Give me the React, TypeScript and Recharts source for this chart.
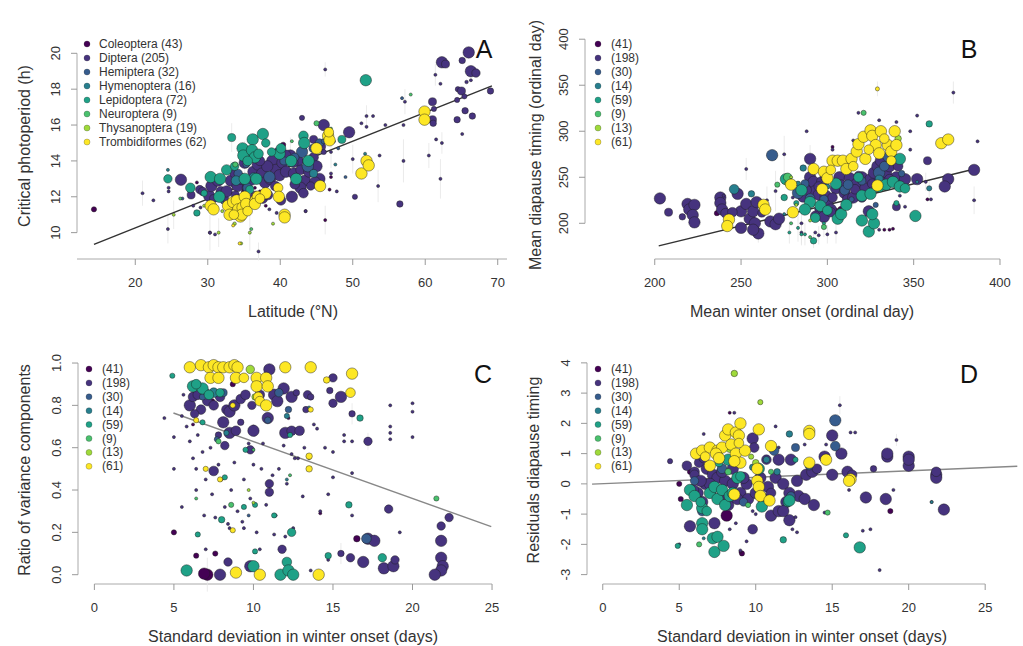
import React from 'react';
import { ScatterChart, Scatter, XAxis, YAxis, ZAxis, ReferenceLine, ErrorBar } from 'recharts';

type Pt = [number, number, number, number?]; // x, y, weight (point size), optional y error
type Seg = [[number, number], [number, number]];

const FONT = '"Liberation Sans", Arial, Helvetica, sans-serif';

const orders = ['Coleoptera', 'Diptera', 'Hemiptera', 'Hymenoptera', 'Lepidoptera', 'Neuroptera', 'Thysanoptera', 'Trombidiformes'];
const viridis = ['#440154', '#46337E', '#365C8D', '#277F8E', '#1FA187', '#4AC16D', '#9FDA3A', '#FDE725'];
const countsA = [43, 205, 32, 16, 72, 9, 19, 62];
const countsBCD = [41, 198, 30, 14, 59, 9, 13, 61];

const xTicksA = [20, 30, 40, 50, 60, 70];
const yTicksA = [10, 12, 14, 16, 18, 20];
const xTicksB = [200, 250, 300, 350, 400];
const yTicksB = [200, 250, 300, 350, 400];
const xTicksCD = [0, 5, 10, 15, 20, 25];
const yTicksC = [0, 0.2, 0.4, 0.6, 0.8, 1.0];
const yTicksD = [-3, -2, -1, 0, 1, 2, 3, 4];

const fitA: Seg = [[14.3, 9.35], [69.2, 18.18]];
const fitB: Seg = [[202.3, 175.4], [384.7, 258.7]];
const fitC: Seg = [[4.97, 0.764], [24.95, 0.227]];
const fitD: Seg = [[-0.7, -0.01], [27.1, 0.58]];

// ---- Panel A: latitude vs critical photoperiod ----
const aColeoptera: Pt[] = [[14.3,11.3,15],[40.4,14.9,15],[38,11.5,3],[36.5,12.5,3],[28.5,12.8,3],[30.3,10,3],[43.5,11.2,3],[46.2,10.7,3,0.8],[47,13.1,3],[39,13.3,15],[40.2,13.5,45],[33.5,12.6,3],[37.2,12.3,3],[35,12.3,15],[44,13.8,3],[46.8,12.4,3],[41.2,12.1,3],[42.5,12.6,3]];
const aDiptera: Pt[] = [[26.3,12.95,85],[27.7,12.1,40],[28.9,12.4,45],[30.2,12.05,85],[30.5,12.6,85],[31.4,12.9,85],[31.8,12.3,60],[32.3,11.9,45],[32.6,12.3,85],[33.2,12.9,85,1.1],[33.7,13.3,60],[34.1,12.6,85],[34.6,13,85],[35.4,12.5,60],[35.1,13.9,85,1.2],[35.7,14.2,60],[36.3,13.4,85],[36.9,13.8,85],[37.5,13.3,85],[37.9,12.8,85],[38.6,13,85],[38.9,14,85],[39.4,13.5,85],[39.9,13.2,85],[40.3,13.9,85],[40.8,13.4,85],[41.4,14.3,85,1],[41.9,13.3,85],[42.4,14,85],[42.8,13.5,60],[43.4,12.9,85],[44,13.4,85],[44.6,14.2,60],[45,13.7,85],[45.4,13,85],[46,16,85],[49.5,15.6,85],[45.6,14.8,60],[44.6,15.2,40],
  [36.6,12,85],[37.6,11.9,60],[38.3,12.1,60],[40.1,11.8,60],[41.6,12,85],[42.8,12.5,85],[43.2,12.2,60],[44.8,12.8,85],[39.3,12.6,60],[36,12.9,60],[33.8,12.1,40],[29.3,12.3,45],[30.8,11.9,40],
  [38.2,13.7,85],[40.7,14.3,85],[41.8,13.9,60],[43.1,14.6,45],[37.2,14,60],[39.6,14.5,45],[42,12.7,60],[44.2,12.6,45],
  [62.3,19.5,85],[62.8,19.4,40],[65.1,19.6,25],[66,20.05,85],[66.3,19,85],[67,18.9,45],[64.5,18,15],[65,17.9,40],[65.4,17.6,15],[64.4,17.4,15],[61,17.3,40],[61.2,16.9,15],[61,16.3,40],[61.1,16.1,25],[64.4,16.3,25],[65.5,16.8,25],[66.5,16.5,25],[69,17.9,25],[65.7,18.4,5],[66.3,18.5,3],
  [56.5,11.6,25],[50.3,12,15],[43,16.4,15],[47.3,15.1,10],[46,14.5,15],
  [21,12.2,3,0.7],[24.5,10.2,3,0.8],[24.6,12.3,3],[24.6,12.5,3],[30.3,10,3,1],[37,8.95,3,0.5],[38.5,11.3,3],[39.5,11.1,3],[43.5,11.2,3],[46.2,19.1,3,0.4],[51.9,16.5,3,0.6],[52.8,16.5,3],[51.9,15.9,3],[53.5,12.6,3,0.9],[53.7,14.3,3],[57,14,3,1.2],[57.2,17.3,3,0.7],[62.1,13,3,1.1],[61.4,18.8,3,0.6],[62.1,18.3,3],[47,13.3,3],[47.8,12.3,3],[47,14.5,3,0.9],[31,9.9,3],[50,14.1,3,0.8],[51.2,16.1,3],[60.5,14.3,3,0.7],[61.5,15.2,3],[62.3,15,3,0.6],[65.1,15.5,3],[28,11.5,3],[29,11.4,3],[22.5,11.8,3],[57,16,3],[54.5,16,3]];
const aHemiptera: Pt[] = [[35.5,12.5,60],[38.5,13.1,85],[43,14.5,85],[43.8,13.7,85],[45.4,15,45],[34.2,13.3,45],[40.5,14,40],[46,15.1,15],[44.5,14.7,40],[42,14.2,45],[35.3,13.8,25],[32,11.7,3],[49,13.1,3],[26.5,11.9,3],[56.8,17.5,3],[48,14.7,3]];
const aHymenoptera: Pt[] = [[33.9,12.9,60],[36.3,13.1,45],[43.7,14,45],[44.6,13.3,40],[24.5,13.5,3],[47.6,13.8,3],[51.7,14.4,3],[28.5,11.1,3]];
const aLepidoptera: Pt[] = [[24.5,13,45],[27.6,12.5,60],[28.5,11.1,25],[30.4,13.1,85],[31.7,13,85],[31.6,12,85],[32.6,13.5,70],[33.3,15.3,40,0.8],[34.8,14.7,85],[34.9,14.3,85],[35.1,13,85],[36.2,15.2,85],[36.1,14.6,85],[36.5,14.2,85],[37.6,15.5,85],[38,15,45],[36.7,13,85],[39.9,14.4,85],[40.1,14.7,60],[41.5,14,85],[42.2,13,85],[43.2,15.4,60],[43.3,15,85],[43.9,14,85],[51.8,18.5,85],[35.5,14,60],[37,14.4,60],[33.7,13.7,45],[38.8,14.5,45],[48.5,15.2,40],[29.5,12.2,25],[35.8,12.4,40]];
const aNeuroptera: Pt[] = [[45,16.1,15],[33.8,13.8,15],[26.2,11.9,3],[41.6,15.1,3],[58,17.7,3],[36,10.2,3],[47,15.8,3]];
const aThysanoptera: Pt[] = [[31.5,10,3,0.8],[35.8,10,3,1],[33.7,10.5,5],[25.3,11,3,0.8],[34.6,9.4,3],[29.5,11.5,3],[39,10.5,3],[32,11.2,3],[45.4,14.6,5],[46.7,15.6,3]];
const aTrombidiformes: Pt[] = [[30.4,11.5,85],[30.8,11.3,85],[32.8,11.5,85],[33,11,85],[33.5,11.7,85],[34,11.8,85],[34.2,11.3,85],[34.5,10.9,85],[34.8,11.4,85],[35.1,12,85],[35.3,11.6,85],[34.7,11,85],[33.6,11,60],[36.6,11.8,85],[36.9,12,85],[36.5,11.6,85],[38,12.2,85],[39.7,12.5,60],[39.8,12,85],[40.6,11,85],[40.6,10.85,85],[45,14.7,85],[45.5,12.6,85],[46.6,15.4,85],[46.8,15.15,85],[46.7,15.6,60],[51.2,13.3,85],[51.9,14,85],[52.2,13.75,85],[59.9,16.75,85],[59.9,16.3,85],[33.5,10.4,3],[34.4,9.4,3],[35.5,11.2,60],[37.2,11.9,60]];

// ---- Panel B: winter onset vs diapause timing ----
const bColeoptera: Pt[] = [[236,211,15],[240,212,15],[305,212,40],[302,214,25],[308,215,25],[290,252,3],[303,283,3],[325,193,3],[333,193,3],[336,193,3],[338,194,3],[358,226,3],[300,259,3],[305,243,3],[296,225,3],[310,219,3],[280,210,3],[318,227,3],[322,203,3]];
const bDiptera: Pt[] = [[203,227,85],[208,212,40],[216,207,25],[219,221,85],[220,215,85],[223,220,85],[222,209,85],[223,201,85],[238,228,85],[238,222,85],[239,215,85],[241,211,60],[248,232,85],[250,213,85],[250,195,85],[253,221,85],[255,205,85],[257,213,85],[258,200,85],[259,223,85],[260,189,85,10],[267,202,85],[270,199,85],[272,205,85],[257,193,85],[245,212,60],[262,211,40],
  [286,229,85],[289,240,85],[290,270,85,15],[290,250,85],[292,245,85],[293,235,85],[295,231,85],[297,245,85],[299,230,85],[300,222,85],[302,215,85],[296,215,85],[293,208,60],[305,238,85],[307,250,85],[310,233,85],[312,226,85],[313,249,85],[315,228,85],[317,243,85],[320,250,85],[322,238,85],[325,248,85],[327,255,85],[329,262,85],[331,268,85],[334,254,85],[336,262,85],[338,270,85],[340,250,85],[341,262,60],[345,248,85],[352,248,85],[370,248,85],[368,240,85],[385,258,85],[358,268,40],[340,218,40],[324,213,85],[298,207,85],[302,212,60],[288,236,60],[295,240,60],[303,228,60],[308,242,60],[316,237,60],[320,228,60],[326,243,60],[332,245,60],[336,248,60],[299,250,60],[318,252,45],
  [253,259,3,12],[275,275,3,20],[300,188,3,10],[288,300,3],[303,280,3],[318,320,3],[330,312,3],[340,310,3],[348,300,3],[352,317,3],[373,342,3,12],[385,225,3,15],[387,289,3],[315,290,3],[293,190,3],[330,193,3],[345,218,3],[270,235,3,22],[265,225,3,15],[280,228,3],[285,200,3,15],[285,190,3,12],[295,187,3,10],[305,190,3,12],[348,280,3],[357,245,3,10],[360,226,3],[342,230,3],[240,230,3]];
const bHemiptera: Pt[] = [[268,274,85],[283,233,85],[290,227,60],[310,236,60],[312,242,60],[330,255,85],[333,262,60],[335,272,60],[298,226,45],[320,246,40],[287,243,40],[343,254,25],[328,220,15],[314,226,15]];
const bHymenoptera: Pt[] = [[246,237,60],[256,232,25],[286,260,25],[283,243,15],[352,245,3],[359,238,15,10],[330,248,40],[275,210,3],[300,240,15]];
const bLepidoptera: Pt[] = [[276,248,85],[285,236,85],[290,223,85],[287,215,85],[296,219,85],[300,214,60],[306,205,85],[308,210,85],[311,220,85],[305,243,85],[320,230,85],[325,232,85],[330,240,85],[334,242,85],[338,245,85],[342,240,85],[342,270,85],[320,203,85],[324,191,85],[327,200,85],[326,210,85],[351,208,85],[359,308,25],[318,250,60],[345,238,60],[293,206,60],[292,181,25,8],[287,188,3,12],[285,188,3,12],[298,200,3,15],[278,190,3,12],[283,195,3,15],[340,222,15],[275,228,25],[282,222,15]];
const bNeuroptera: Pt[] = [[277,250,45],[271,242,15],[298,196,15],[321,320,15],[290,185,3],[279,200,3]];
const bThysanoptera: Pt[] = [[341,292,25],[279,250,3],[276,243,3],[282,220,3],[312,272,3],[290,203,3],[337,286,3]];
const bTrombidiformes: Pt[] = [[243,204,85],[242,197,85],[263,220,85],[264,215,85],[279,242,85],[280,212,85],[292,259,85],[297,237,85],[298,256,85],[300,249,85],[303,268,85],[306,268,85],[309,268,85],[311,259,85],[314,270,85],[317,278,85],[318,286,85],[321,294,85],[322,270,85],[325,301,85],[326,295,85],[328,285,85],[330,276,85],[331,300,85],[335,285,85],[337,278,85],[339,300,85],[340,285,85],[329,241,85],[366,287,85],[370,291,85],[329,346,8,8],[324,280,60],[333,292,60],[315,262,60],[302,258,60],[337,268,60]];

// ---- Panel C: SD winter onset vs variance ratio ----
const cColeoptera: Pt[] = [[7.1,0,85,0.08],[6.9,0.005,85],[7.6,0.1,15],[16.5,0.17,25],[5,0.2,15],[6.4,0.09,15],[9,0.93,15],[7.4,0.82,15],[8.7,0.9,15],[6.2,0.71,3],[10,0.7,3],[12.2,0.74,3],[14.2,0.29,3]];
const cDiptera: Pt[] = [[6,0.8,85],[6.2,0.84,60],[6.5,0.85,60],[6.7,0.78,60],[7.1,0.82,60],[7.5,0.8,60],[7.9,0.84,60],[8.3,0.78,60],[8.5,0.77,85],[8.8,0.8,85],[9.2,0.83,60],[9.5,0.85,60],[8.1,0.72,85],[8.5,0.67,85],[8.9,0.68,60],[7.5,0.49,60],[8.2,0.61,45],[9.8,0.59,45],[10,0.68,85],[11,0.97,85],[11.3,0.85,85],[11.9,0.88,85],[11.5,0.82,85],[12.4,0.84,85],[12,0.67,85],[12.4,0.68,60],[12.9,0.68,60],[13.4,0.85,45],[10.9,0.74,85],[11,0.43,45],[11,0.39,45],[15,0.93,45],[14.8,0.87,25],[15.5,0.84,85],[15,0.81,45],[16.2,0.76,25,0.05],[17.2,0.63,45,0.04],[18.5,0.31,45],[17.2,0.17,85],[17.6,0.16,85],[18.2,0.03,85],[18.8,0.04,85],[18.9,0.07,45],[16.9,0.06,85],[16.1,0.08,45],[15.5,0.1,25,0.05],[11.8,0.12,45],[8.4,0.06,45],[9.8,0.04,85],[7.9,0,85],[21.8,0.16,85],[21.8,0.08,85],[21.9,0.04,85],[21.8,0.02,85],[21.4,0,85],[21.8,0.23,45],[22.3,0.27,45],[10.4,0.85,60],[9.9,0.8,45],[7,0.86,45],[6.5,0.9,25],[13.3,0.78,25],[13.6,0.84,25],[12.7,0.86,25],[6.3,0.76,45],[9.2,0.72,25],[7.8,0.66,25],
  [4.4,0.74,3],[5,0.65,3],[5,0.5,3],[5.5,0.32,3],[5.5,0.75,3],[5.6,0.85,3],[5.8,0.7,3],[6,0.63,3],[6.2,0.55,3],[6.4,0.4,3],[6.4,0.5,3],[6.5,0.66,3],[6.8,0.58,3],[6.9,0.28,3],[7,0.45,3],[7.3,0.6,3],[7.4,0.38,3],[7.6,0.27,3],[7.8,0.52,3],[8,0.45,3],[8.2,0.32,3],[8.5,0.22,3],[8.6,0.4,3],[8.8,0.53,3],[9,0.3,3],[9.3,0.25,3],[9.4,0.45,3],[9.7,0.62,3],[9.8,0.36,3],[10,0.52,3],[10.2,0.2,3],[10.5,0.5,3],[10.6,0.62,3],[10.8,0.33,3],[11.2,0.47,3],[11.4,0.28,3],[11.6,0.5,3],[11.9,0.61,3],[12.1,0.43,3],[12.4,0.57,3],[12.6,0.55,3],[12.5,0.22,3],[13.1,0.37,3],[13.2,0.6,3],[13.8,0.71,3],[14,0.69,3],[14.2,0.3,3],[14.5,0.6,3],[14.7,0.38,3],[15,0.58,3],[15,0.46,3],[15.7,0.66,3],[15.7,0.63,3],[16.2,0.63,3],[16.2,0.48,3],[16.2,0.28,3],[18.6,0.8,3],[18.6,0.7,3],[18.6,0.67,3],[18.6,0.64,3],[20,0.81,3],[20,0.77,3],[20,0.65,3],[19.2,0.2,3],[12,0.18,3],[9.4,0.22,3],[8.4,0.24,3],[11.3,0.19,3],[12.8,0.55,3],[10.4,0.12,3],[7,0.12,3],[13.6,0.02,3],[14.7,0.07,3]];
const cHemiptera: Pt[] = [[17.1,0.17,60],[11.6,0.86,45],[8.1,0.86,40],[12.2,0.78,25],[6.8,0.84,25],[10.9,0.73,25],[7.7,0.64,15],[9.7,0.28,3],[13.5,0.55,3]];
const cHymenoptera: Pt[] = [[7.5,0.86,60],[12.1,0.75,15],[8.3,0.67,15],[6.3,0.9,15],[13.5,0.79,3],[12.1,0.45,3]];
const cLepidoptera: Pt[] = [[6.2,0.89,85],[6.8,0.88,85],[6.4,0.9,60],[7.2,0.85,60],[7.9,0.86,45],[5.8,0.02,85],[10,0.04,85],[11.7,0,85],[12.1,0.06,60],[12.2,0.02,85],[12.5,0,85],[12.4,0.2,45],[16,0.33,25],[16.7,0.74,25],[18.1,0.08,45],[14.7,0.09,25],[10.1,0.11,15],[6.5,0.19,15],[8,0.26,25],[11.3,0.28,15],[9.4,0.32,15],[4.9,0.94,15],[6.8,0.72,15],[10.1,0.33,15],[12.3,0.66,15],[8.2,0.46,15],[9.5,0.59,15]];
const cNeuroptera: Pt[] = [[7.8,0.63,15],[8.6,0.33,15],[21.5,0.36,15],[10,0.59,3],[6.4,0.36,3],[12.3,0.47,3]];
const cThysanoptera: Pt[] = [[9.8,0.97,45],[10.1,0.84,25],[6,0.97,15],[9.7,0.4,3],[10,0.34,3],[6.4,0.73,3]];
const cTrombidiformes: Pt[] = [[6,0.98,85],[6.7,0.99,85],[7.2,0.98,85],[7.5,0.99,85],[7.8,0.98,85],[8.1,0.98,85],[8.5,0.98,85],[8.8,0.99,85],[9,0.98,85],[7.3,0.93,85],[7.8,0.93,85],[8.9,0.93,85],[9.4,0.93,60],[10.2,0.93,85],[10.2,0.89,85],[10.8,0.93,85],[10.9,0.89,85],[10.3,0.84,60],[10.4,0.82,60],[10.8,0.8,85],[12,0.98,85],[13.6,0.98,85],[16.2,0.95,85],[16.1,0.86,60],[14.6,0.92,25],[13.5,0.56,25],[13.5,0.5,25],[8.9,0.01,85],[10.4,0,85],[14.1,0,85],[8.7,0.8,15],[6.4,0.73,15],[7,0.5,15],[7.9,0.45,15],[8.7,0.21,15],[13.6,0.78,15]];

// ---- Panel D: SD winter onset vs residual diapause timing ----
const dColeoptera: Pt[] = [[8.1,-1.05,85],[5,0,15],[5.1,-0.5,15],[9.1,-2.3,15],[18.8,-0.9,15],[6.6,1,3],[7.3,0.2,15],[5.7,0.4,15],[9,-2.25,3],[8.3,2.35,3]];
const dDiptera: Pt[] = [[5.5,0.6,60],[6,0.4,60],[6.3,0.7,60],[6.8,0.5,85],[7.2,0.3,85],[7.5,0.2,85],[8,0.1,85],[8.5,0,85],[9,-0.3,85],[9.5,-0.5,85],[10,-0.3,85],[10.8,-0.1,85],[11.3,0.2,85],[11.8,0,85],[12.2,-0.3,85],[12.7,0.1,85],[13.3,0.3,85],[13.7,0.4,85],[14.5,0.9,85],[15,1.6,85],[15,0.3,85],[15.6,1,85],[16,0.4,85],[17.2,-0.45,85],[18.5,-0.5,85],[18.6,0.9,85],[18.6,1,85],[20,0.9,85],[20,0.6,85],[20,0.8,85],[21.8,0.3,85],[21.8,0.2,85],[22.3,-0.85,85],[5.7,-1.4,85],[7.3,-1.3,85],[9.8,-1.5,60],[11,-1.05,85],[11.5,-0.9,85],[12.2,-1.2,85],[10.7,0.8,60],[9.8,1.5,85],[9.9,1.2,60],[11.5,0.8,85],[12.3,0.8,85],[6.6,0.85,60],[6,0.3,60],[6.7,0,85],[7.8,-0.4,85],[8.2,-0.7,85],[8.8,-0.5,85],[9.4,0,85],[10.5,-0.5,85],[11,-0.3,60],[12,-0.6,85],[12.8,-0.4,85],[13.2,-0.5,85],[13.8,-0.7,85],[11.8,-0.9,85],[6.2,-0.3,85],[6.5,-0.6,85],[7,0,85],[7.8,0.4,85],[8.5,0.5,85],[9.2,0.2,85],[6.4,0.1,85],[5.9,-0.2,85],[10.3,0.2,85],[14,0.5,60],[16.3,0.3,60],[17.7,0.5,25],[21.8,0.4,60],
  [4.4,0.75,15],[5,-2,3],[15.5,2.6,3,0.3],[16.2,1.7,3],[16.5,1.7,3],[19.2,1.45,3,0.2],[19,-0.2,3],[17.5,-1.5,3],[18.1,-2.85,3],[14.5,-0.95,3],[21.5,-0.6,3],[9.4,-1.9,3],[9,-2.2,3],[8.6,2.35,3],[6.6,1.65,3],[11.3,1.9,3],[10,-1,3],[9.8,-0.9,3],[8.7,-1.3,3],[8.3,-1.5,3],[12.4,-1.5,3],[12.7,-1.6,3],[12.6,-1.1,3],[16.1,-0.2,3],[13.2,1.3,3],[14.6,1.3,3],[11.5,1.2,3],[17,-1.55,3]];
const dHemiptera: Pt[] = [[15.2,2.1,85],[15.2,1.25,60],[11.2,1.1,60],[7.8,0.5,60],[6.5,-0.9,60],[12.6,1.2,40],[9.2,-0.6,45],[13.5,0.6,45],[10.2,-0.2,45],[6,0.1,45],[12.3,-0.4,45]];
const dHymenoptera: Pt[] = [[12.2,1.65,25],[10.7,0.8,25],[11.4,0.4,25],[9.8,0.55,25],[7.1,-0.3,45],[21.5,-0.6,3],[6.6,-1.8,3]];
const dLepidoptera: Pt[] = [[5.7,-0.2,85],[5.5,-0.7,85],[6,-0.4,85],[6.5,-0.8,85],[6.5,-1.3,85],[6.5,-1.5,85],[7,-0.3,85],[7.3,-0.1,85],[7.5,-0.5,85],[7.8,-0.2,85],[8,-0.7,85],[7.2,-1.8,85],[7.5,-1.75,85],[7.3,-2.25,85],[7.9,-2.05,85],[8.3,-0.4,85],[8.5,-0.3,85],[8.8,0.2,85],[9,0.25,60],[10.4,-0.75,85],[12.1,-0.6,60],[11.8,-1.85,25],[12.2,-0.55,85],[16.8,-2.1,85],[10.2,0.5,85],[8.2,0.8,85],[6.4,-0.6,60],[6.8,-0.9,60],[15.9,-1.7,15],[4.9,-2.05,15],[7.6,0.7,40],[12.6,0.8,15]];
const dNeuroptera: Pt[] = [[6.3,-2,15],[8.2,0.4,25],[11,0.4,15],[9.5,-0.7,15],[14.7,-0.95,15]];
const dThysanoptera: Pt[] = [[8.6,3.65,25],[10.3,2.7,15],[8.3,1.2,60],[10,0.7,25],[7.6,1,15],[9.7,0.9,15]];
const dTrombidiformes: Pt[] = [[6.1,1,85],[6.5,1.1,85],[7,1.2,85],[7.5,1.1,85],[7.8,1.2,85],[7.4,1,85],[7.6,0.85,85],[7,0.6,85],[8,1.6,85],[8.2,1.8,85],[8.7,1.7,85],[9,2,85],[8.9,1.6,85],[8.4,1.3,85],[8.7,1,85],[9,0.7,85],[8.6,0.75,85],[9.3,1.1,85],[10.2,1.8,85],[11,1.25,85],[10.1,0.5,85],[10.1,0.1,85],[10.2,-0.1,85],[10.3,-0.4,85],[10.9,-0.55,85],[8.6,-0.35,85],[13.5,1.75,85],[13.5,1.65,85],[13.5,0.7,85],[14.6,0.8,85],[16.2,0.15,85],[16.1,0.1,85],[6.7,0.9,60],[8.9,1.35,60]];

const W = 512;
const H = 323;
const Y_AXIS_W = 50;
const X_AXIS_H = 30;

interface PanelCfg {
  left: number;
  top: number;
  box: { l: number; r: number; t: number; b: number };
  xDomain: [number, number];
  yDomain: [number, number];
  xTicks: number[];
  yTicks: number[];
  yFmt: (v: number) => string;
  xLineFull?: boolean;
  groups: Pt[][];
  fit: Seg;
  fitColor: string;
  xTitle: string;
  yTitle: string;
  xTitlePos: [number, number];
  yTitlePos: [number, number];
  legend: string[];
  legendPos: { dot: number; text: number; y0: number; dy: number };
  letter: string;
  letterPos: [number, number];
}

function XTick(props: any) {
  const { x, y, payload } = props;
  return (
    <text x={x} y={y + 22} textAnchor="middle" fontSize={13} fill="#333" fontFamily={FONT}>
      {payload.value}
    </text>
  );
}

// y tick labels turned on their side, R style
const yTickStyle: any = { fontSize: 13, fill: '#333', fontFamily: FONT, textAnchor: 'middle', verticalAnchor: 'middle' };

function Panel({ cfg }: { cfg: PanelCfg }) {
  const { box, xDomain, yDomain, xTicks, yTicks } = cfg;
  const axisColor = '#aaa';
  const xLine = cfg.xLineFull ? xDomain : [xTicks[0], xTicks[xTicks.length - 1]];
  return (
    <div style={{ position: 'absolute', left: cfg.left, top: cfg.top, width: W, height: H }}>
      <ScatterChart width={W} height={H}
        margin={{ top: box.t, right: W - box.r, bottom: H - box.b - X_AXIS_H, left: box.l - Y_AXIS_W }}>
        <XAxis type="number" dataKey="x" domain={xDomain} ticks={xTicks} interval={0}
          allowDataOverflow axisLine={false} tickLine={{ stroke: '#999' }} tickSize={6} tickMargin={0}
          height={X_AXIS_H} tick={XTick} />
        <YAxis type="number" dataKey="y" domain={yDomain} ticks={yTicks} interval={0}
          allowDataOverflow axisLine={false} tickLine={{ stroke: '#999' }} tickSize={6} tickMargin={16}
          width={Y_AXIS_W} angle={-90} tick={yTickStyle} tickFormatter={cfg.yFmt} />
        <ZAxis type="number" dataKey="z" domain={[0, 100]} range={[4, 120]} />
        <ReferenceLine ifOverflow="visible" stroke={axisColor} strokeWidth={1}
          segment={[{ x: xLine[0], y: yDomain[0] }, { x: xLine[1], y: yDomain[0] }]} />
        <ReferenceLine ifOverflow="visible" stroke={axisColor} strokeWidth={1}
          segment={[{ x: xDomain[0], y: yTicks[0] }, { x: xDomain[0], y: yTicks[yTicks.length - 1] }]} />
        {cfg.groups.map((g, i) => (
          <Scatter key={orders[i]} name={orders[i]} isAnimationActive={false}
            data={g.map(([x, y, z, e]) => ({ x, y, z, e: e ?? 0 }))}
            fill={viridis[i]} stroke="rgba(30,30,30,0.75)" strokeWidth={0.6}>
            <ErrorBar dataKey="e" direction="y" width={0} stroke="#e6e6e6" strokeWidth={0.8} />
          </Scatter>
        ))}
        <ReferenceLine ifOverflow="visible" stroke={cfg.fitColor} strokeWidth={1.4}
          segment={[{ x: cfg.fit[0][0], y: cfg.fit[0][1] }, { x: cfg.fit[1][0], y: cfg.fit[1][1] }]} />
      </ScatterChart>
      <svg width={W} height={H} style={{ position: 'absolute', left: 0, top: 0, pointerEvents: 'none' }}
        fontFamily={FONT}>
        <g transform={`translate(${cfg.yTitlePos[0]},${cfg.yTitlePos[1]}) rotate(-90)`}>
          <text x={0} y={0} fontSize={16} fill="#333" textAnchor="middle" dominantBaseline="central">
            {cfg.yTitle}
          </text>
        </g>
        <text x={cfg.xTitlePos[0]} y={cfg.xTitlePos[1]} fontSize={16} fill="#333" textAnchor="middle"
          dominantBaseline="central">
          {cfg.xTitle}
        </text>
        <text x={cfg.letterPos[0]} y={cfg.letterPos[1]} fontSize={25} fill="#111" textAnchor="middle">
          {cfg.letter}
        </text>
        {cfg.legend.map((label, i) => {
          const y = cfg.legendPos.y0 + i * cfg.legendPos.dy;
          return (
            <g key={label + i}>
              <circle cx={cfg.legendPos.dot} cy={y} r={3} fill={viridis[i]} stroke="rgba(30,30,30,0.5)" strokeWidth={0.5} />
              <text x={cfg.legendPos.text} y={y} fontSize={12} fill="#333" dominantBaseline="central">{label}</text>
            </g>
          );
        })}
      </svg>
    </div>
  );
}

const fmtInt = (v: number) => String(v);
const fmt1 = (v: number) => v.toFixed(1);

const panels: PanelCfg[] = [
  {
    left: 0, top: 0, box: { l: 77, r: 507, t: 30, b: 259 },
    xDomain: [11.96, 71.28], yDomain: [8.53, 21.3], xTicks: xTicksA, yTicks: yTicksA, yFmt: fmtInt,
    xLineFull: true,
    groups: [aColeoptera, aDiptera, aHemiptera, aHymenoptera, aLepidoptera, aNeuroptera, aThysanoptera, aTrombidiformes],
    fit: fitA, fitColor: '#333',
    xTitle: 'Latitude (°N)', yTitle: 'Critical photoperiod (h)', xTitlePos: [293, 311], yTitlePos: [24.5, 146],
    legend: orders.map((o, i) => `${o} (${countsA[i]})`), legendPos: { dot: 87, text: 99, y0: 44, dy: 14 },
    letter: 'A', letterPos: [484, 58],
  },
  {
    left: 512, top: 0, box: { l: 73, r: 498, t: 30, b: 259 },
    xDomain: [159.6, 405.8], yDomain: [161.2, 410], xTicks: xTicksB, yTicks: yTicksB, yFmt: fmtInt,
    groups: [bColeoptera, bDiptera, bHemiptera, bHymenoptera, bLepidoptera, bNeuroptera, bThysanoptera, bTrombidiformes],
    fit: fitB, fitColor: '#333',
    xTitle: 'Mean winter onset (ordinal day)', yTitle: 'Mean diapause timing (ordinal day)', xTitlePos: [290, 311], yTitlePos: [23.5, 145],
    legend: countsBCD.map((c) => `(${c})`), legendPos: { dot: 86, text: 99, y0: 44, dy: 14 },
    letter: 'B', letterPos: [457, 58],
  },
  {
    left: 0, top: 323, box: { l: 78, r: 500, t: 32, b: 261 },
    xDomain: [-1.03, 25.5], yDomain: [-0.044, 1.038], xTicks: xTicksCD, yTicks: yTicksC, yFmt: fmt1,
    groups: [cColeoptera, cDiptera, cHemiptera, cHymenoptera, cLepidoptera, cNeuroptera, cThysanoptera, cTrombidiformes],
    fit: fitC, fitColor: '#888',
    xTitle: 'Standard deviation in winter onset (days)', yTitle: 'Ratio of variance components', xTitlePos: [293, 313], yTitlePos: [24, 147],
    legend: countsBCD.map((c) => `(${c})`), legendPos: { dot: 89, text: 102, y0: 46, dy: 13.9 },
    letter: 'C', letterPos: [483, 60],
  },
  {
    left: 512, top: 323, box: { l: 75, r: 505, t: 32, b: 261 },
    xDomain: [-1.03, 27.08], yDomain: [-3.31, 4.26], xTicks: xTicksCD, yTicks: yTicksD, yFmt: fmtInt,
    groups: [dColeoptera, dDiptera, dHemiptera, dHymenoptera, dLepidoptera, dNeuroptera, dThysanoptera, dTrombidiformes],
    fit: fitD, fitColor: '#888',
    xTitle: 'Standard deviation in winter onset (days)', yTitle: 'Residuals diapause timing', xTitlePos: [290, 313], yTitlePos: [21.5, 147],
    legend: countsBCD.map((c) => `(${c})`), legendPos: { dot: 86, text: 99, y0: 46, dy: 13.9 },
    letter: 'D', letterPos: [457, 60],
  },
];

export default function App() {
  return (
    <div style={{ position: 'absolute', left: 0, top: 0, width: 1023, height: 646, background: '#fff', fontFamily: FONT }}>
      {panels.map((p) => <Panel key={p.letter} cfg={p} />)}
    </div>
  );
}
